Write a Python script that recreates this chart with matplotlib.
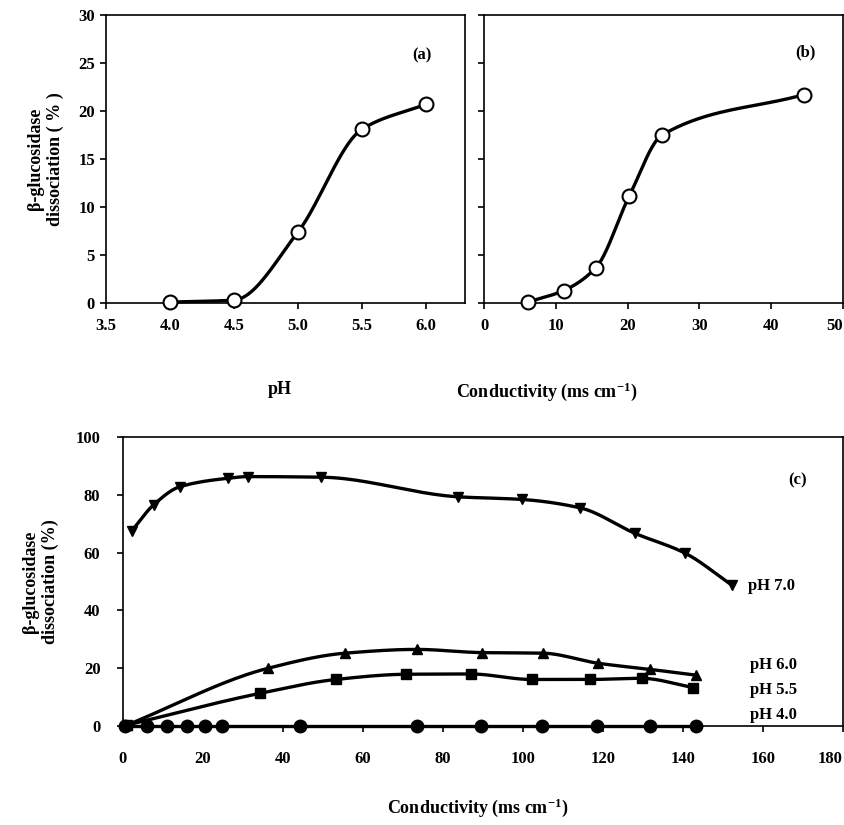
import numpy as np
import matplotlib.pyplot as plt

# (a) dissociation vs pH
ph_a = [4.0, 4.5, 5.0, 5.5, 6.0]
diss_a = [0.1, 0.3, 7.4, 18.1, 20.7]

# (b) dissociation vs conductivity
cond_b = [6.1, 11.1, 15.6, 20.2, 24.8, 44.5]
diss_b = [0.1, 1.3, 3.7, 11.1, 17.5, 21.7]

# (c) dissociation vs conductivity at several pH
cond_70 = [2.3, 7.7, 14.3, 26.2, 31.4, 49.6, 83.9, 99.7, 114.3, 128.0, 140.6, 152.2]
diss_70 = [67.6, 76.5, 82.8, 85.7, 86.3, 86.1, 79.3, 78.4, 75.5, 66.7, 59.8, 48.8]
cond_60 = [1.0, 36.4, 55.6, 73.5, 89.7, 105.0, 118.9, 131.8, 143.3]
diss_60 = [0.3, 20.0, 25.2, 26.5, 25.4, 25.2, 21.7, 19.6, 17.6]
cond_55 = [1.0, 34.3, 53.3, 70.8, 87.0, 102.2, 116.8, 129.7, 142.5]
diss_55 = [0.3, 11.3, 16.1, 17.9, 18.0, 16.1, 16.1, 16.5, 13.3]
cond_40 = [0.6, 6.0, 11.0, 16.0, 20.6, 24.8, 44.3, 73.5, 89.5, 104.7, 118.5, 131.8, 143.3]
diss_40 = [0, 0, 0, 0, 0, 0, 0, 0, 0, 0, 0, 0, 0]

plt.rcParams['font.family'] = ['Liberation Serif', 'DejaVu Serif']
plt.rcParams['font.weight'] = 'bold'
plt.rcParams['axes.labelweight'] = 'bold'
plt.rcParams['mathtext.default'] = 'regular'


def smooth(x, y, n=40):
    # monotone cubic (Fritsch-Carlson) just for drawing the curve
    x = np.asarray(x, float)
    y = np.asarray(y, float)
    h = np.diff(x)
    d = np.diff(y) / h
    m = np.zeros_like(y)
    m[0], m[-1] = d[0], d[-1]
    for i in range(1, len(x) - 1):
        if d[i - 1] * d[i] > 0:
            w1 = 2 * h[i] + h[i - 1]
            w2 = h[i] + 2 * h[i - 1]
            m[i] = (w1 + w2) / (w1 / d[i - 1] + w2 / d[i])
    xs, ys = [], []
    for i in range(len(x) - 1):
        t = np.linspace(0, 1, n)
        h00 = 2 * t**3 - 3 * t**2 + 1
        h10 = t**3 - 2 * t**2 + t
        h01 = -2 * t**3 + 3 * t**2
        h11 = t**3 - t**2
        xs.append(x[i] + t * h[i])
        ys.append(h00 * y[i] + h10 * h[i] * m[i] + h01 * y[i + 1] + h11 * h[i] * m[i + 1])
    return np.concatenate(xs), np.concatenate(ys)


def style(ax, pad_x, pad_y):
    for s in ax.spines.values():
        s.set_linewidth(1.2)
    ax.tick_params(direction='out', length=4, width=1.2, labelsize=12)
    ax.tick_params(axis='x', pad=pad_x)
    ax.tick_params(axis='y', pad=pad_y)


fig = plt.figure(figsize=(8.44, 8.25), dpi=100)

# panel (a)
ax1 = fig.add_axes([0.1256, 0.6327, 0.4253, 0.3491])
sx, sy = smooth(ph_a, diss_a)
ax1.plot(sx, sy, color='black', lw=2.4, clip_on=False)
ax1.plot(ph_a, diss_a, 'o', mfc='white', mec='black', mew=1.5, ms=10, clip_on=False, zorder=3)
ax1.set_xlim(3.5, 6.305)
ax1.set_ylim(0, 30)
ax1.set_xticks(np.arange(3.5, 6.01, 0.5))
ax1.set_xticklabels(['3.5', '4.0', '4.5', '5.0', '5.5', '6.0'])
ax1.set_yticks(range(0, 31, 5))
style(ax1, 7, 4)
ax1.text(5.97, 25.8, '(a)', fontsize=12, ha='center', va='center')
ax1.set_ylabel('β-glucosidase\ndissociation ( % )', fontsize=13, labelpad=10)

# panel (b)
ax2 = fig.add_axes([0.5735, 0.6327, 0.4253, 0.3491])
sx, sy = smooth(cond_b, diss_b)
ax2.plot(sx, sy, color='black', lw=2.4)
ax2.plot(cond_b, diss_b, 'o', mfc='white', mec='black', mew=1.5, ms=10, clip_on=False, zorder=3)
ax2.set_xlim(0, 50)
ax2.set_ylim(0, 30)
ax2.set_xticks(range(0, 51, 10))
ax2.set_yticks(range(0, 31, 5))
ax2.set_yticklabels([])
style(ax2, 7, 4)
ax2.get_xticklabels()[-1].set_horizontalalignment('right')
ax2.text(44.8, 26.1, '(b)', fontsize=12, ha='center', va='center')

fig.text(280 / 844, 1 - 390 / 825, 'pH', fontsize=13, ha='center', va='center')
fig.text(547 / 844, 1 - 392 / 825, 'Conductivity (ms cm$^{-1}$)', fontsize=13,
         ha='center', va='center')

# panel (c)
ax3 = fig.add_axes([0.1454, 0.12, 0.8531, 0.3503])
series = [
    (cond_70, diss_70, 'v', 7),
    (cond_60, diss_60, '^', 7),
    (cond_55, diss_55, 's', 7),
    (cond_40, diss_40, 'o', 9),
]
for xs_, ys_, mk, size in series:
    sx, sy = smooth(xs_, ys_)
    ax3.plot(sx, sy, color='black', lw=2.4, clip_on=False)
    ax3.plot(xs_, ys_, mk, color='black', ms=size, clip_on=False, zorder=3)
ax3.set_xlim(0, 180)
ax3.set_ylim(0, 100)
ax3.set_xticks(range(0, 181, 20))
ax3.set_yticks(range(0, 101, 20))
style(ax3, 14, 12)
ax3.get_xticklabels()[-1].set_horizontalalignment('right')
ax3.text(168.6, 85.1, '(c)', fontsize=12, ha='center', va='center')
ax3.text(156.3, 48.4, 'pH 7.0', fontsize=12, ha='left', va='center')
ax3.text(156.8, 21.1, 'pH 6.0', fontsize=12, ha='left', va='center')
ax3.text(156.8, 12.5, 'pH 5.5', fontsize=12, ha='left', va='center')
ax3.text(156.8, 3.8, 'pH 4.0', fontsize=12, ha='left', va='center')
ax3.set_ylabel('β-glucosidase\ndissociation (%)', fontsize=13, labelpad=12)

fig.text(478 / 844, 1 - 808 / 825, 'Conductivity (ms cm$^{-1}$)', fontsize=13,
         ha='center', va='center')

fig.savefig('out.png', dpi=100)
